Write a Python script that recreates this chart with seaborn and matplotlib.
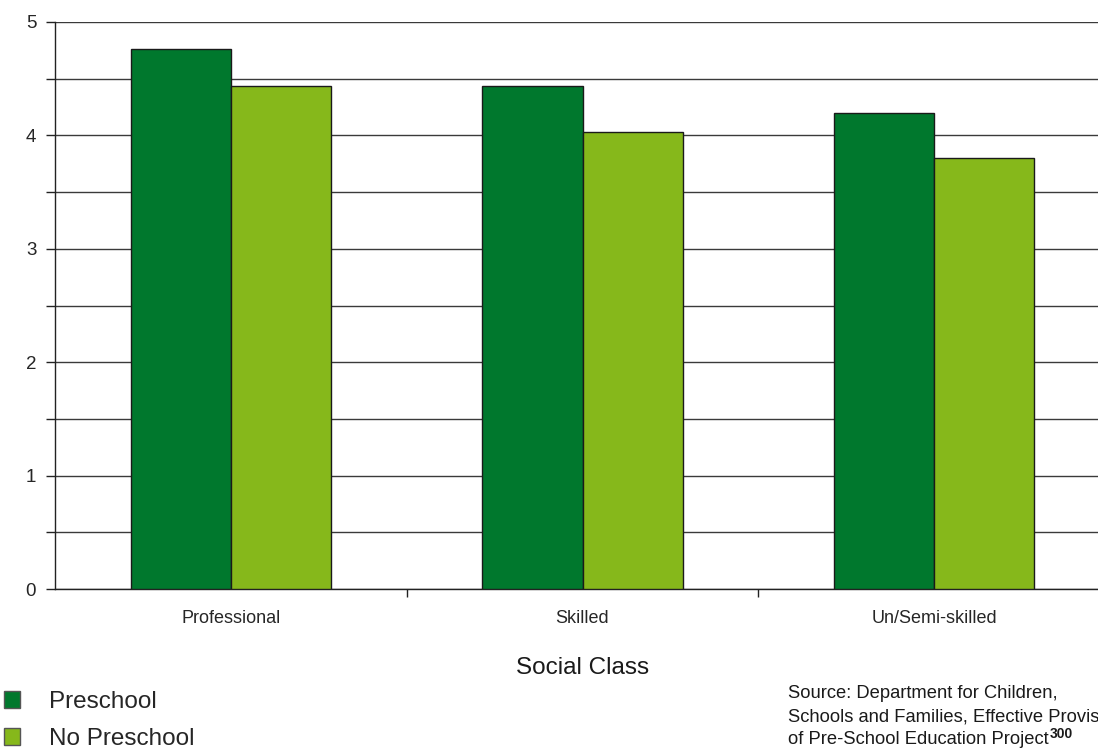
import numpy as np
import pandas as pd
import seaborn as sns
from matplotlib import pyplot as plt
from matplotlib.patches import Patch
from matplotlib.ticker import MultipleLocator

# data
categories = ['Professional', 'Skilled', 'Un/Semi-skilled']
preschool = [4.76, 4.44, 4.20]
no_preschool = [4.44, 4.03, 3.80]
series_names = ['Preschool', 'No Preschool']
colors = ['#00782D', '#86B81B']
source_lines = ['Source: Department for Children,',
                'Schools and Families, Effective Provision',
                'of Pre-School Education Project']
source_ref = '300'

df = pd.DataFrame({
    'Social Class': categories * 2,
    'score': preschool + no_preschool,
    'group': [series_names[0]] * 3 + [series_names[1]] * 3,
})

sns.set_style('white')
plt.rcParams['font.family'] = ['Liberation Sans', 'DejaVu Sans']

W, H = 1098, 751
fig = plt.figure(figsize=(W / 100, H / 100), dpi=100)
# axes runs past the right edge of the figure, like the original
ax = fig.add_axes([55 / W, 1 - 589 / H, 1055 / W, (589 - 22) / H])

sns.barplot(data=df, x='Social Class', y='score', hue='group',
            palette=colors, saturation=1, width=0.57,
            edgecolor='#1a1a1a', linewidth=1,
            ax=ax, legend=False, zorder=3)

ax.set_xlim(-0.5, 2.5)
ax.set_ylim(0, 5)
ax.yaxis.set_major_locator(MultipleLocator(1))
ax.yaxis.set_minor_locator(MultipleLocator(0.5))
ax.grid(axis='y', which='both', color='#3a3a3a', linewidth=1, zorder=0)
ax.set_axisbelow(True)

for side in ['top', 'right']:
    ax.spines[side].set_visible(False)
for side in ['left', 'bottom']:
    ax.spines[side].set_color('#222222')
    ax.spines[side].set_linewidth(1)

ax.tick_params(axis='y', which='both', direction='out', length=6.5,
               width=1, color='#222222', left=True, labelsize=13.5, pad=7)
ax.tick_params(axis='x', which='major', length=0, labelsize=13, pad=15)
# ticks on the x axis sit between the categories
ax.set_xticks([0.5, 1.5], minor=True)
ax.tick_params(axis='x', which='minor', direction='out', length=6,
               width=1, color='#222222', bottom=True)

ax.set_xlabel('Social Class', fontsize=17.5, labelpad=22, color='#1a1a1a')
ax.set_ylabel('')

handles = [Patch(facecolor=c, edgecolor='#555555') for c in colors]
fig.legend(handles, series_names, loc='upper left',
           bbox_to_anchor=(4 / W, 1 - 691 / H), frameon=False,
           fontsize=17.5, handlelength=0.65, handleheight=0.65,
           handletextpad=1.2, labelspacing=0.62, borderaxespad=0,
           borderpad=0)

# source note, clipped at the right edge as in the original
tops = [685, 708, 731]
for line, top in zip(source_lines, tops):
    t = fig.text(788 / W, 1 - top / H, line, fontsize=13.2, va='top',
                 ha='left', color='#1a1a1a')
fig.canvas.draw()
bb = t.get_window_extent()
fig.text((bb.x1 + 1) / W, 1 - (tops[-1] - 4) / H, source_ref,
         fontsize=10, fontweight='bold', va='top', ha='left',
         color='#1a1a1a')

fig.savefig('out.png', dpi=100)
